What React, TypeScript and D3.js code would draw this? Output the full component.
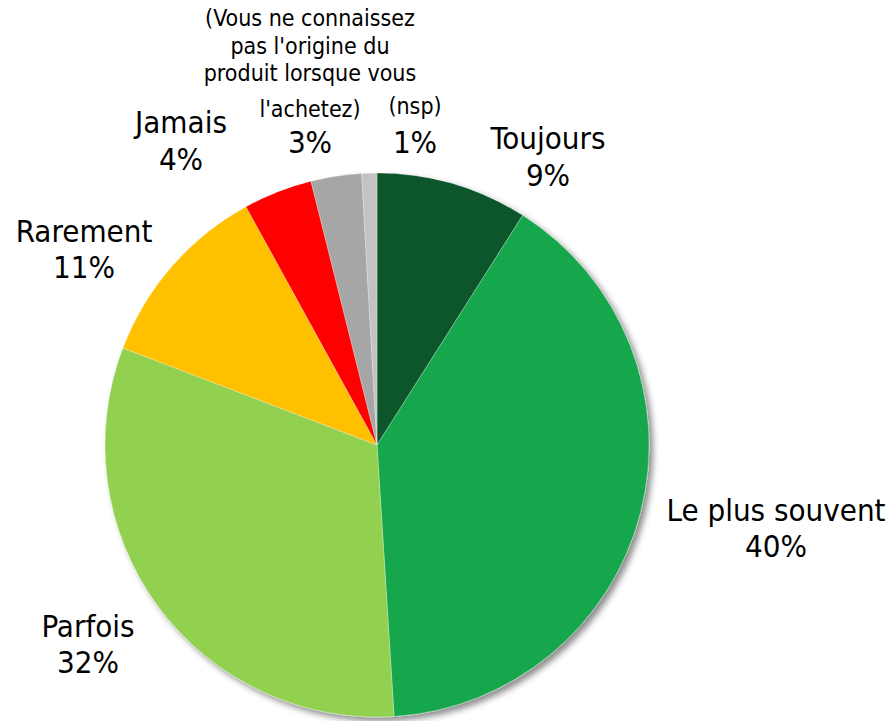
import React from "react";
import * as d3 from "d3";

const categories = [
  "Toujours",
  "Le plus souvent",
  "Parfois",
  "Rarement",
  "Jamais",
  "(Vous ne connaissez pas l'origine du produit lorsque vous l'achetez)",
  "(nsp)",
];
const values = [9.0, 40.0, 31.8, 11.2, 4.1, 3.0, 0.9];
const valueLabels = ["9%", "40%", "32%", "11%", "4%", "3%", "1%"];
const colors = ["#07542b", "#13a64b", "#92d050", "#ffc000", "#ff0000", "#a6a6a6", "#c3c3c3"];

// label layout: name lines (small font flag), percent line
const nameLines: string[][] = [
  ["Toujours"],
  ["Le plus souvent"],
  ["Parfois"],
  ["Rarement"],
  ["Jamais"],
  ["(Vous ne connaissez", "pas l'origine du", "produit lorsque vous", "l'achetez)"],
  ["(nsp)"],
];

const W = 889;
const H = 721;
const cx = 377;
const cy = 445;
const R = 272;

const FONT = "'DejaVu Sans Condensed', 'DejaVu Sans', sans-serif";

export default function App() {
  const pie = d3
    .pie<number>()
    .sort(null)
    .value((d) => d);
  const arcs = pie(values);
  const arcGen = d3.arc<d3.PieArcDatum<number>>().innerRadius(0).outerRadius(R);

  // label anchor positions [x, nameBaseline, pctBaseline]
  const labelPos: [number, number[], number][] = [
    [548, [149], 186],
    [776, [521], 557],
    [88, [637], 673],
    [84, [242], 278],
    [181, [133], 170],
    [310, [26, 54, 81, 117], 153],
    [415, [114], 153],
  ];

  return (
    <svg
      width={W}
      height={H}
      style={{ position: "absolute", left: 0, top: 0, background: "#fff" }}
    >
      <defs>
        <filter id="shadow" x="-20%" y="-20%" width="140%" height="140%">
          <feDropShadow dx="4" dy="4" stdDeviation="3" floodColor="#000" floodOpacity="0.45" />
        </filter>
      </defs>
      <g transform={`translate(${cx},${cy})`} filter="url(#shadow)">
        {arcs.map((a, i) => (
          <path
            key={i}
            d={arcGen(a) || ""}
            fill={colors[i]}
            stroke="#ffffff"
            strokeOpacity={0.5}
            strokeWidth={0.6}
          />
        ))}
      </g>
      {categories.map((c, i) => {
        const [x, ys, py] = labelPos[i];
        const lines = nameLines[i];
        const small = i >= 5;
        return (
          <g key={c} fontFamily={FONT} fill="#000" textAnchor="middle">
            {lines.map((l, j) => (
              <text key={j} x={x} y={ys[j]} fontSize={small ? 23 : 31}>
                {l}
              </text>
            ))}
            <text x={x} y={py} fontSize={31}>
              {valueLabels[i]}
            </text>
          </g>
        );
      })}
    </svg>
  );
}
